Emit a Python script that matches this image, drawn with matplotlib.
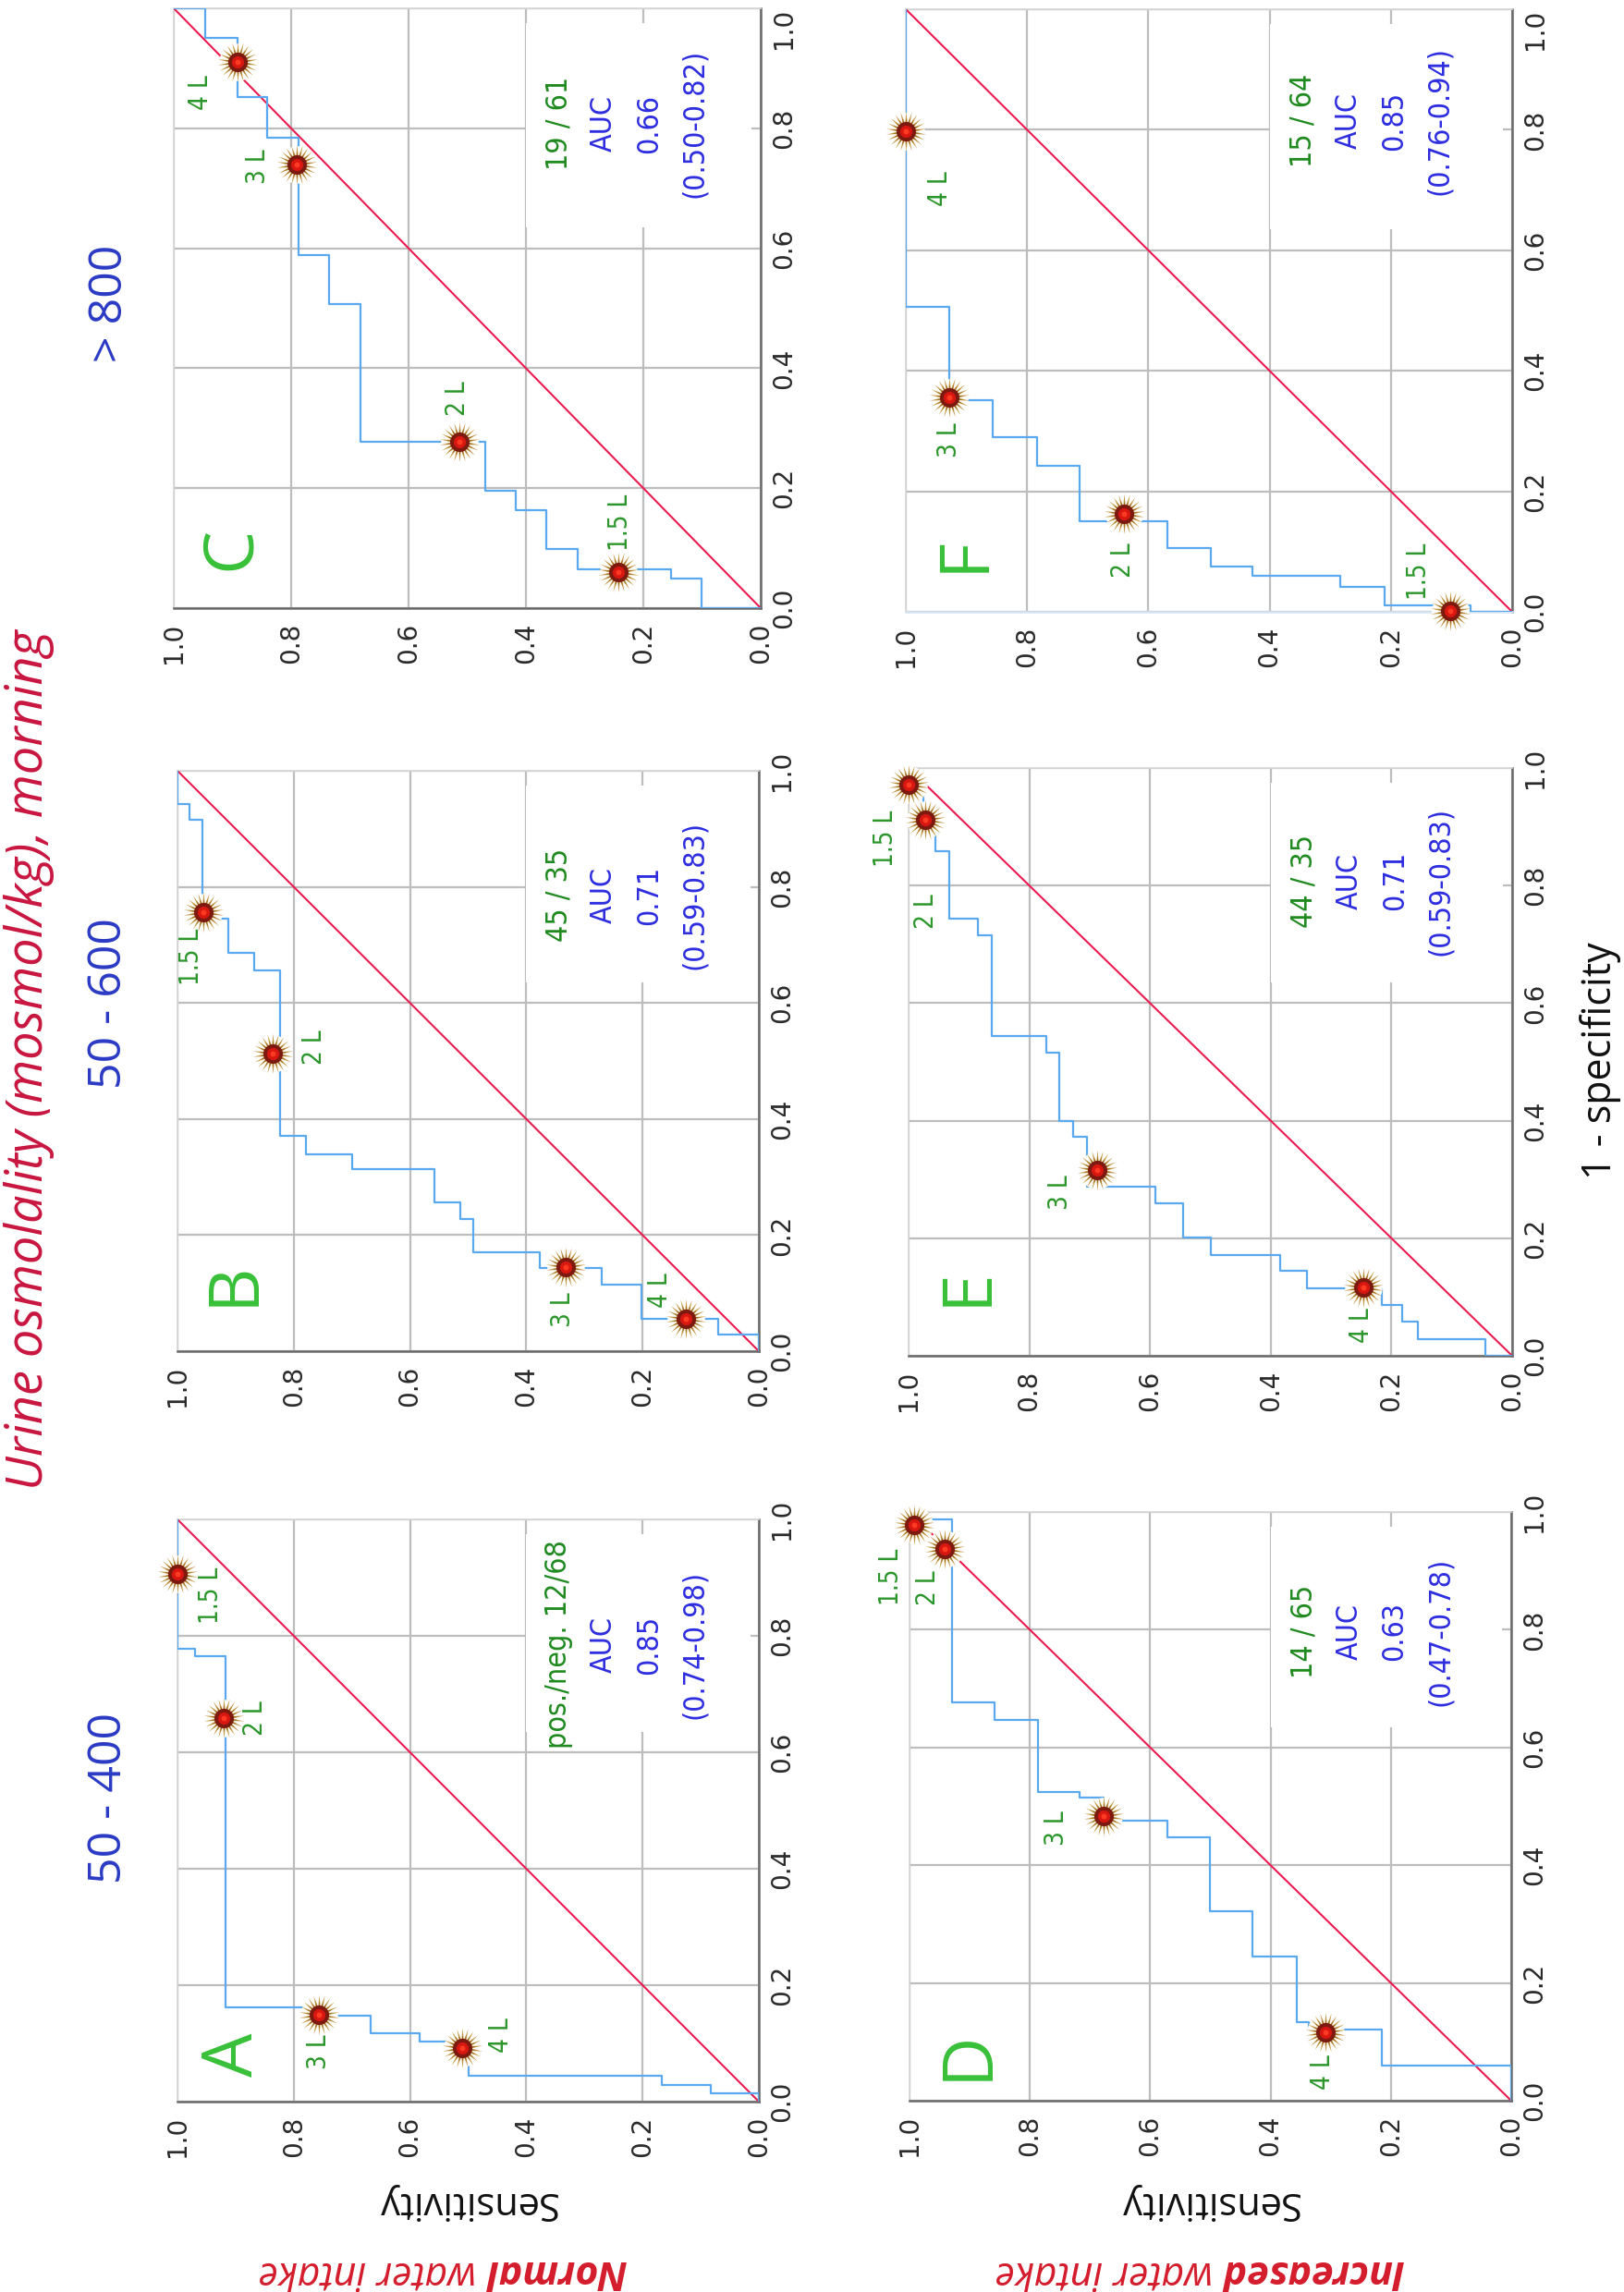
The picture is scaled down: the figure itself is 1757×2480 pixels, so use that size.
import matplotlib
matplotlib.use('Agg')
import matplotlib.pyplot as plt
from matplotlib.path import Path
from matplotlib.patches import Rectangle

W, H = 1757, 2480

# ---- data ----
panels = ['A', 'B', 'C', 'D', 'E', 'F']
ranges = ['50 - 400', '50 - 600', '> 800']
counts = ['pos./neg. 12/68', '45 / 35', '19 / 61', '14 / 65', '44 / 35', '15 / 64']
auc = ['0.85', '0.71', '0.66', '0.63', '0.71', '0.85']
auc_ci = ['(0.74-0.98)', '(0.59-0.83)', '(0.50-0.82)', '(0.47-0.78)', '(0.59-0.83)', '(0.76-0.94)']
volumes = ['1.5 L', '2 L', '3 L', '4 L']
ticks = [0.0, 0.2, 0.4, 0.6, 0.8, 1.0]

# ROC corner points (sensitivity, 1 - specificity), drawn as post steps
roc_A_sens = [0, 0, 0.083, 0.167, 0.5, 0.583, 0.667, 0.75, 0.917, 0.97, 1.0]
roc_A_fpr = [0, 0.015, 0.029, 0.044, 0.103, 0.118, 0.147, 0.162, 0.765, 0.778, 1.0]
roc_B_sens = [0, 0, 0.070, 0.202, 0.270, 0.377, 0.492, 0.514, 0.558, 0.700, 0.779, 0.823, 0.868, 0.913, 0.957, 0.980, 1.0]
roc_B_fpr = [0, 0.029, 0.055, 0.114, 0.143, 0.170, 0.228, 0.256, 0.313, 0.339, 0.371, 0.656, 0.686, 0.745, 0.915, 0.942, 1.0]
roc_C_sens = [0, 0.101, 0.153, 0.312, 0.365, 0.418, 0.470, 0.682, 0.735, 0.788, 0.841, 0.892, 0.947, 1.0]
roc_C_fpr = [0, 0.049, 0.064, 0.098, 0.163, 0.196, 0.278, 0.507, 0.589, 0.785, 0.852, 0.951, 1.0, 1.0]
roc_D_sens = [0, 0, 0.215, 0.337, 0.357, 0.430, 0.501, 0.571, 0.677, 0.717, 0.786, 0.859, 0.930, 1.0]
roc_D_fpr = [0, 0.059, 0.121, 0.134, 0.245, 0.322, 0.447, 0.476, 0.515, 0.524, 0.646, 0.677, 0.987, 1.0]
roc_E_sens = [0, 0.045, 0.156, 0.182, 0.216, 0.340, 0.385, 0.500, 0.545, 0.591, 0.704, 0.728, 0.751, 0.772,
              0.862, 0.885, 0.933, 0.955, 0.975, 1.0]
roc_E_fpr = [0, 0.029, 0.058, 0.087, 0.115, 0.144, 0.172, 0.201, 0.259, 0.288, 0.373, 0.400, 0.515, 0.544,
             0.715, 0.744, 0.859, 0.910, 0.970, 1.0]
roc_F_sens = [0, 0.068, 0.210, 0.283, 0.428, 0.497, 0.568, 0.713, 0.784, 0.856, 0.929, 1.0]
roc_F_fpr = [0, 0.010, 0.042, 0.060, 0.075, 0.106, 0.151, 0.243, 0.290, 0.351, 0.506, 1.0]

# cut-off points for 1.5 L, 2 L, 3 L, 4 L (sensitivity, 1 - specificity)
cut_A_sens = [1.0, 0.921, 0.756, 0.511]
cut_A_fpr = [0.907, 0.658, 0.149, 0.092]
cut_B_sens = [0.955, 0.837, 0.333, 0.126]
cut_B_fpr = [0.757, 0.512, 0.145, 0.055]
cut_C_sens = [0.242, 0.513, 0.791, 0.891]
cut_C_fpr = [0.060, 0.278, 0.740, 0.910]
cut_D_sens = [0.992, 0.941, 0.677, 0.309]
cut_D_fpr = [0.978, 0.937, 0.483, 0.116]
cut_E_sens = [1.0, 0.973, 0.688, 0.246]
cut_E_fpr = [0.971, 0.912, 0.316, 0.117]
cut_F_sens = [0.102, 0.641, 0.929, 1.0]
cut_F_fpr = [0.002, 0.163, 0.356, 0.798]

roc = {'A': (roc_A_sens, roc_A_fpr), 'B': (roc_B_sens, roc_B_fpr), 'C': (roc_C_sens, roc_C_fpr),
       'D': (roc_D_sens, roc_D_fpr), 'E': (roc_E_sens, roc_E_fpr), 'F': (roc_F_sens, roc_F_fpr)}
cuts = {'A': (cut_A_sens, cut_A_fpr), 'B': (cut_B_sens, cut_B_fpr), 'C': (cut_C_sens, cut_C_fpr),
        'D': (cut_D_sens, cut_D_fpr), 'E': (cut_E_sens, cut_E_fpr), 'F': (cut_F_sens, cut_F_fpr)}

# ---- layout (pixels, figure is drawn already turned a quarter) ----
rects = {'A': (192, 1644, 821, 2274), 'B': (192, 834, 821, 1462), 'C': (188, 9, 823, 658),
         'D': (984, 1636, 1635, 2273), 'E': (983, 831, 1636, 1467), 'F': (980, 10, 1636, 662)}
text_y = {'A': 0.785, 'B': 0.786, 'C': 0.808, 'D': 0.797, 'E': 0.808, 'F': 0.815}
letter_y = {'A': 0.08, 'B': 0.116, 'C': 0.10, 'D': 0.078, 'E': 0.117, 'F': 0.095}
lab_off = {'A': [(36, 24), (34, 0), (0, 40), (42, -14)],
           'B': [(-13, 49), (45, -7), (-3, 46), (-28, -31)],
           'C': [(2, -54), (-2, -46), (-42, 2), (-40, 33)],
           'D': [(-25, 56), (-18, 42), (-51, 13), (-3, 43)],
           'E': [(-25, 58), (1, 99), (-40, 24), (-2, 42)],
           'F': [(-34, -42), (-1, 50), (0, 46), (37, 62)]}
range_pos = [(118, 1946), (118, 1086), (119, 328)]

TITLE_RED = '#c8163f'
ROW_RED = '#d41c2c'
RANGE_BLUE = '#2b3ac4'
AUC_BLUE = '#2d2de0'
COUNT_GREEN = '#1f8a1f'
LETTER_GREEN = '#38c038'
LABEL_GREEN = '#2b962b'
ROC_BLUE = '#5aa8ee'
DIAG = '#ec1a4e'
GRID = '#bdbdbd'
SANS = 'Open Sans'

star = Path.unit_regular_star(22, innerCircle=0.42)

fig = plt.figure(figsize=(W / 100, H / 100), dpi=100)


def fxy(x, y):
    return x / W, 1 - y / H


def burst(ax, s, f):
    kw = dict(clip_on=False, linewidths=0)
    ax.scatter(s, f, s=850, c='white', zorder=5, **kw)
    ax.scatter(s, f, s=980, marker=star, c='#c49a48', zorder=6, **kw)
    ax.scatter(s, f, s=480, marker=star, c='#8a5a1c', zorder=6.5, **kw)
    ax.scatter(s, f, s=230, c='#7c1a10', zorder=7, **kw)
    ax.scatter(s, f, s=90, c='#d81810', zorder=8, **kw)
    ax.scatter(s, f, s=18, c='#ff3a22', zorder=9, **kw)


for p in panels:
    x0, y0, x1, y1 = rects[p]
    ax = fig.add_axes([x0 / W, 1 - y1 / H, (x1 - x0) / W, (y1 - y0) / H])
    ax.set_xlim(1, 0)
    ax.set_ylim(0, 1)
    ax.set_xticks(ticks)
    ax.set_yticks(ticks)
    ax.set_xticklabels([f'{t:.1f}' for t in ticks])
    ax.set_yticklabels([f'{t:.1f}' for t in ticks])
    ax.yaxis.tick_right()
    ax.tick_params(length=0, labelsize=20, labelcolor='#2a2a2a')
    ax.tick_params(axis='x', labelrotation=90, pad=11)
    ax.tick_params(axis='y', labelrotation=90, pad=8)
    plt.setp(ax.get_yticklabels(), va='center')
    if p in ('C', 'F'):
        ax.get_yticklabels()[-1].set_va('top')
    ax.set_axisbelow(True)
    ax.grid(True, color=GRID, lw=1.6)
    for side in ['top', 'left']:
        ax.spines[side].set_color('#d6d6d6')
        ax.spines[side].set_linewidth(1.2)
    for side in ['right', 'bottom']:
        ax.spines[side].set_color('#6a6a6a')
        ax.spines[side].set_linewidth(1.8)
    if p == 'F':
        ax.spines['bottom'].set_color('#d4e4f2')

    # white box behind the summary text
    ax.add_patch(Rectangle((0.60, 0.635), 0.385, 0.34, transform=ax.transAxes,
                           fc='white', ec='none', zorder=1))

    ax.plot([0, 1], [0, 1], color=DIAG, lw=1.5, zorder=3)
    rs, rf = roc[p]
    ax.step(rs, rf, where='post', color=ROC_BLUE, lw=1.6, zorder=4)

    cs, cf = cuts[p]
    for i, vol in enumerate(volumes):
        burst(ax, cs[i], cf[i])
        dx, dy = lab_off[p][i]
        ax.annotate(vol, (cs[i], cf[i]), xytext=(dx, -dy), textcoords='offset pixels',
                    rotation=90, ha='center', va='center', color=LABEL_GREEN,
                    fontsize=20, fontstretch='condensed', zorder=10, annotation_clip=False)

    ax.text(0.098, letter_y[p], p, transform=ax.transAxes, rotation=90, ha='center',
            va='center', fontsize=54, color=LETTER_GREEN, family=SANS, zorder=10)

    k = panels.index(p)
    lines = [counts[k], 'AUC', auc[k], auc_ci[k]]
    colors = [COUNT_GREEN, AUC_BLUE, AUC_BLUE, AUC_BLUE]
    for i, (txt, col) in enumerate(zip(lines, colors)):
        ax.text(0.656 + i * 49 / (x1 - x0), text_y[p], txt, transform=ax.transAxes,
                rotation=90, ha='center', va='center', fontsize=23, color=col,
                fontstretch='condensed', zorder=10)

    if p in ('A', 'D'):
        cx = (x0 + x1) / 2
        fig.text(*fxy(cx - 2, 2383), 'Sensitivity', rotation=180, ha='center', va='center',
                 fontsize=30, family=SANS, color='#111111')

# range titles
for (rx, ry), txt in zip(range_pos, ranges):
    fig.text(*fxy(rx, ry), txt, rotation=90, ha='center', va='center', fontsize=36,
             family=SANS, color=RANGE_BLUE)

# main title
fig.text(*fxy(32, 1147), 'Urine osmolality (mosmol/kg), morning', rotation=90, ha='center',
         va='center', fontsize=39, family=SANS, style='italic', color=TITLE_RED)

# x label
fig.text(*fxy(1732, 1148), '1 - specificity', rotation=90, ha='center', va='center',
         fontsize=31, family=SANS, color='#111111')

# row labels (bold word + italic rest), upside down
renderer = fig.canvas.get_renderer()
for bold, xr in [('Normal', 677), ('Increased', 1518)]:
    t = fig.text(*fxy(xr, 2458), bold, rotation=180, ha='right', va='center', fontsize=31,
                 family=SANS, weight='bold', style='italic', color=ROW_RED)
    w = t.get_window_extent(renderer=renderer).width
    fig.text(*fxy(xr - w - 9, 2458), 'water intake', rotation=180, ha='right', va='center',
             fontsize=31, family=SANS, style='italic', color=ROW_RED)

fig.savefig('out.png', dpi=100)
